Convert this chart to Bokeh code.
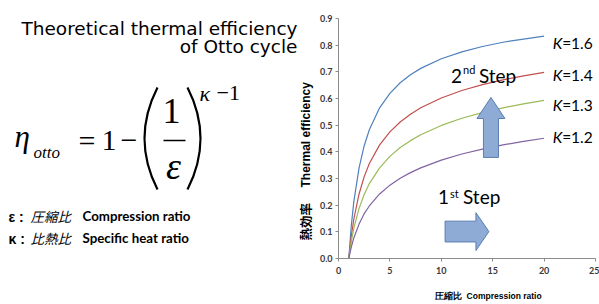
import math
from bokeh.plotting import figure
from bokeh.layouts import row
from bokeh.models import Range1d, FixedTicker, NumeralTickFormatter
from bokeh.core.properties import value
from bokeh.embed import file_html
from bokeh.resources import INLINE

# ---------------- data ----------------
compression_ratio = [1, 1.25, 1.5, 2, 2.5, 3, 4, 5, 6, 7, 8, 10, 12, 14, 16, 18, 20]
eff_k16 = [0, 0.125, 0.216, 0.340, 0.423, 0.483, 0.565, 0.619, 0.659, 0.689, 0.713, 0.749, 0.775, 0.795, 0.811, 0.823, 0.834]
eff_k14 = [0, 0.085, 0.150, 0.242, 0.307, 0.356, 0.426, 0.475, 0.512, 0.541, 0.565, 0.602, 0.630, 0.652, 0.670, 0.685, 0.698]
eff_k13 = [0, 0.065, 0.115, 0.188, 0.240, 0.281, 0.340, 0.383, 0.416, 0.442, 0.464, 0.499, 0.526, 0.547, 0.565, 0.580, 0.593]
eff_k12 = [0, 0.044, 0.078, 0.129, 0.168, 0.197, 0.242, 0.275, 0.301, 0.322, 0.340, 0.369, 0.392, 0.410, 0.426, 0.439, 0.451]
k_values = ["=1.6", "=1.4", "=1.3", "=1.2"]
series_colors = ["#4F81BD", "#C0504D", "#9BBB59", "#8064A2"]
x_ticks = [0, 5, 10, 15, 20, 25]
y_ticks = [0.0, 0.1, 0.2, 0.3, 0.4, 0.5, 0.6, 0.7, 0.8, 0.9]

NB = "\u00a0"
title_lines = ["Theoretical thermal efficiency", "of Otto cycle"]
x_label = NB * 18 + "圧縮比" + NB * 2 + "Compression ratio"
y_label_jp, y_label_en = "熱効率", "Thermal efficiency"
legend_sym = ["ε :", "κ :"]
legend_jp = ["圧縮比", "比熱比"]
legend_en = ["Compression ratio", "Specific heat ratio"]

SANS = "Lato"
SERIF = "Liberation Serif"
CJK = "Noto Sans CJK JP"

BORDER_TOP, BORDER_BOTTOM = 18, 46
LEFT_W = 316

# ---------------- left panel: title, formula, y-axis title ----------------
L = figure(width=LEFT_W, height=304, x_range=Range1d(0, LEFT_W), y_range=Range1d(258, 18),
           output_backend="svg", toolbar_location=None,
           min_border_left=0, min_border_right=0,
           min_border_top=BORDER_TOP, min_border_bottom=BORDER_BOTTOM,
           x_axis_location=None, y_axis_location=None)
L.grid.visible = False
L.outline_line_color = None

def txt(x, y, t, font, size, style="normal", align="left", angle=0.0):
    L.text(x=x, y=y, text=t, text_font=value(font), text_font_size=size,
           text_font_style=style, text_align=align, text_baseline="middle",
           angle=angle, text_color="black")

txt([297, 297], [28, 46], title_lines, "DejaVu Sans", "18.5px", align="right")

# eta_otto = 1 - (1/eps)^(kappa-1)
txt([14], [136], ["η"], SERIF, "31px", style="italic")
txt([33], [152], ["otto"], SERIF, "17px", style="italic")
txt([78, 101, 120], [139.5, 139.5, 139.5], ["=", "1", "−"], SERIF, "30px")
L.quadratic(x0=[157, 187], y0=[87, 87], x1=[157, 187], y1=[189, 189],
            cx=[131, 213], cy=[138, 138], line_color="black", line_width=2.2)
txt([171], [110], ["1"], SERIF, "36px", align="center")
L.segment(x0=[163], y0=[140], x1=[185], y1=[140], line_color="black", line_width=1.5)
txt([173], [165], ["ε"], SERIF, "38px", style="italic", align="center")
txt([199], [92.5], ["κ"], SERIF, "22px", style="italic")
txt([216], [92.5], ["−1"], SERIF, "22px")

# legend of symbols
L.text(x=[8, 8], y=[216, 238], text=legend_sym, text_font=value("Liberation Sans"),
       text_font_style="bold", text_font_size="14px", text_baseline="middle", text_color="black")
txt([30, 30], [215, 237], legend_jp, CJK, "13.5px", style="italic")
txt([82, 82], [215.5, 237.5], legend_en, SANS, "13.3px", style="bold")

# rotated y-axis title of the chart
txt([305], [187], [y_label_en], "Liberation Sans", "12px", style="bold", angle=math.pi / 2)
txt([304.5], [240], [y_label_jp], CJK, "12.5px", style="bold", angle=math.pi / 2)

# ---------------- right panel: chart ----------------
p = figure(width=599 - LEFT_W, height=304, x_range=Range1d(0, 25), y_range=Range1d(0, 0.9),
           output_backend="svg", toolbar_location=None,
           min_border_left=337 - LEFT_W, min_border_right=4,
           min_border_top=BORDER_TOP, min_border_bottom=BORDER_BOTTOM)
p.grid.visible = False
p.outline_line_color = None
p.xaxis.ticker = FixedTicker(ticks=x_ticks)
p.yaxis.ticker = FixedTicker(ticks=y_ticks)
p.yaxis.formatter = NumeralTickFormatter(format="0.0")
for ax in p.axis:
    ax.axis_line_color = "#8c8c8c"
    ax.major_tick_line_color = "#8c8c8c"
    ax.minor_tick_line_color = None
    ax.major_tick_out = 3
    ax.major_tick_in = 0
    ax.major_label_text_font = SANS
    ax.major_label_text_font_style = "bold"
    ax.major_label_text_font_size = "9px"
    ax.major_label_text_color = "#3a3a3a"
p.xaxis.major_label_standoff = 5
p.yaxis.major_label_standoff = 3
p.xaxis.axis_label = x_label
p.xaxis.axis_label_text_font = "Liberation Sans"
p.xaxis.axis_label_text_font_style = "bold"
p.xaxis.axis_label_text_color = "black"
p.xaxis.axis_label_text_font_size = "8.5px"
p.xaxis.axis_label_standoff = 14

for ys, c in zip([eff_k16, eff_k14, eff_k13, eff_k12], series_colors):
    p.line(compression_ratio, ys, line_color=c, line_width=1.2)

k_label_y = [0.81, 0.69, 0.574, 0.454]
p.text(x=[20.83] * 4, y=k_label_y, text=["K"] * 4, text_font=value(SANS),
       text_font_style="italic", text_font_size="15.5px", text_baseline="middle", text_color="black")
p.text(x=[20.83] * 4, y=k_label_y, text=k_values, x_offset=9.5, text_font=value(SANS),
       text_font_size="15.5px", text_baseline="middle", text_color="black")

# step arrows
arrow_fill, arrow_line = "#8EABD6", "#5B7DB1"
ucx, utip, ubase, ubot, uhw, usw = 14.83, 0.604, 0.525, 0.379, 1.36, 0.73
p.patch([ucx, ucx + uhw, ucx + usw, ucx + usw, ucx - usw, ucx - usw, ucx - uhw],
        [utip, ubase, ubase, ubot, ubot, ubase, ubase],
        fill_color=arrow_fill, line_color=arrow_line, line_width=1)
rl, rb, rt, rcy, rsh, rhh = 10.37, 13.37, 14.63, 0.101, 0.039, 0.071
p.patch([rl, rb, rb, rt, rb, rb, rl],
        [rcy + rsh, rcy + rsh, rcy + rhh, rcy, rcy - rhh, rcy - rsh, rcy - rsh],
        fill_color=arrow_fill, line_color=arrow_line, line_width=1)

p.text(x=[10.95, 9.69], y=[0.685, 0.231], text=["2", "1"], text_font=value(SANS),
       text_font_size="19px", text_baseline="middle", text_color="black")
p.text(x=[12.11, 10.85], y=[0.709, 0.242], text=["nd", "st"], text_font=value(SANS),
       text_font_size="11px", text_baseline="middle", text_color="black")
p.text(x=[13.66, 12.11], y=[0.685, 0.231], text=["Step", "Step"], text_font=value(SANS),
       text_font_size="19px", text_baseline="middle", text_color="black")

layout = row(L, p)
open("out.html", "w").write(file_html(layout, INLINE))
